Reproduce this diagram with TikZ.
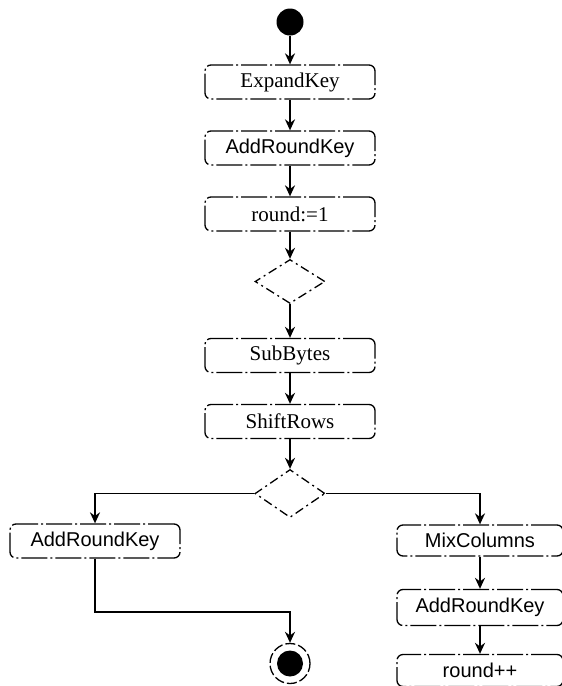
\documentclass[tikz,border=0pt]{standalone}
\usepackage{fontspec}
\setmainfont{Liberation Serif}
\setsansfont{Liberation Sans}
\usetikzlibrary{shapes.geometric,positioning,arrows.meta}
\begin{document}
\begin{tikzpicture}[x=1pt,y=1pt,node distance=66pt]

  % Definitions
  \tikzstyle{action} = [rectangle, rounded corners=6pt, minimum width=170pt, minimum height=34pt, text centered, draw=black, line width=1.3pt, dash pattern=on 26pt off 3pt on 2pt off 3pt, font=\fontsize{21}{25}\selectfont]
  \tikzstyle{actionsf} = [action, font=\sffamily\fontsize{20}{24}\selectfont]
  \tikzstyle{choice} = [diamond, minimum width=70pt, minimum height=44pt, inner sep=0pt, draw=black, line width=1.3pt, dash pattern=on 9pt off 4pt on 2pt off 4pt]
  \tikzstyle{init} = [circle, fill=black, minimum size=27pt, inner sep=0pt]
  \tikzstyle{final} = [circle, draw=black, dash pattern=on 10pt off 3pt, line width=1.3pt, minimum size=40pt, inner sep=0pt, path picture={\fill[black] (path picture bounding box.center) circle (13pt);}]
  \tikzstyle{arrow} = [line width=1.8pt,->,>={Stealth[length=11pt,width=10pt]}]

  \useasboundingbox (0,0) rectangle (562,-686);

  \node (start) [init] at (290,-22) {};
  \node (expand) [action, below of=start, yshift=6pt] {ExpandKey};
  \node (addkey) [actionsf, below of=expand] {AddRoundKey};
  \node (setround) [action, below of=addkey] {round:=1};
  \node (loop) [choice, below of=setround, yshift=-1.5pt] {};
  \node (subbytes) [action, below of=loop, yshift=-8pt] {SubBytes};
  \node (shiftrows) [action, below of=subbytes] {ShiftRows};
  \node (last) [choice, below of=shiftrows, yshift=-6pt, minimum height=48pt] {};
  \node (finalkey) [actionsf, below of=last, xshift=-195pt, yshift=18.5pt] {AddRoundKey};
  \node (mixcols) [actionsf, below of=last, xshift=190pt, yshift=19pt, minimum width=166pt, minimum height=31pt] {MixColumns};
  \node (roundkey) [actionsf, below of=mixcols, yshift=-1pt, minimum width=166pt, minimum height=36pt] {AddRoundKey};
  \node (incround) [actionsf, below of=roundkey, yshift=3pt, minimum width=166pt, minimum height=32pt] {round++};
  \node (stop) [final, below of=last, yshift=-104pt] {};

  \draw [arrow] (start) -- (expand);
  \draw [arrow] (expand) -- (addkey);
  \draw [arrow] (addkey) -- (setround);
  \draw [arrow] (setround) -- (loop);
  \draw [arrow] (loop) -- (subbytes);
  \draw [arrow] (subbytes) -- (shiftrows);
  \draw [arrow] (shiftrows) -- (last);
  \draw [arrow] (last.west) -| (finalkey.north);
  \draw [arrow] (last.east) -| (mixcols.north);
  \draw [arrow] (mixcols) -- (roundkey);
  \draw [arrow] (roundkey) -- (incround);
  \draw [arrow] (finalkey.south) |- ([yshift=31pt]stop.north) -- (stop.north);

\end{tikzpicture}
\end{document}
